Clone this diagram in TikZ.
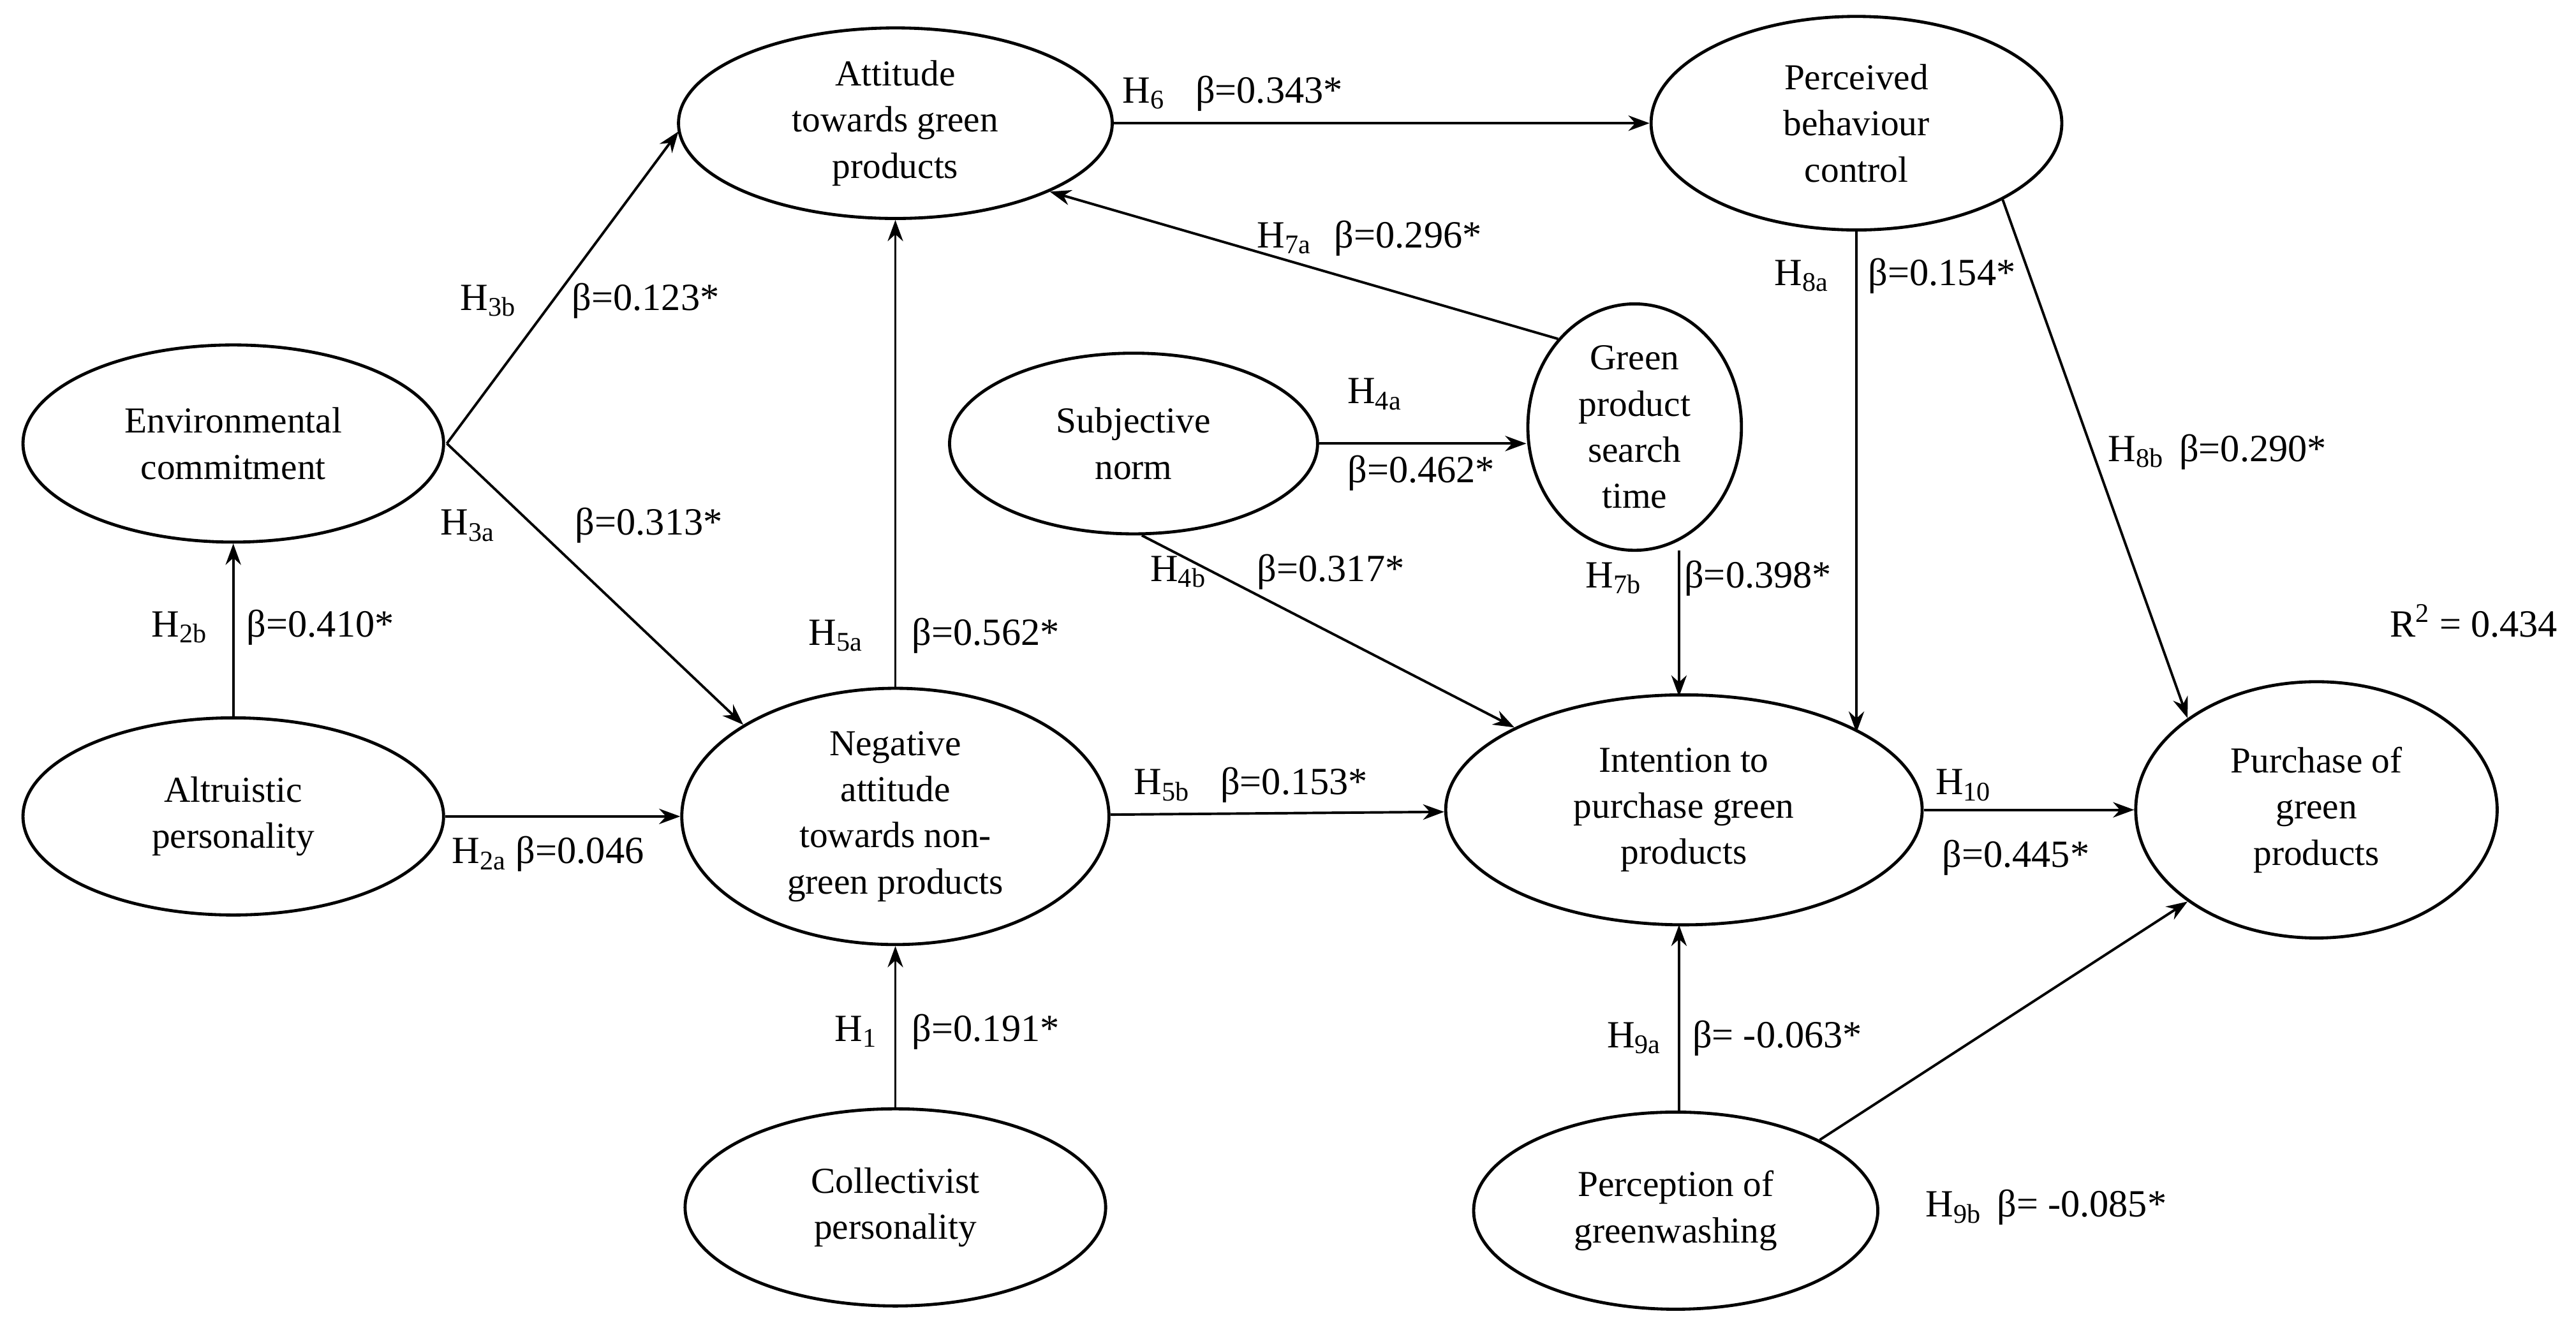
\documentclass[tikz,border=0pt]{standalone}
\usepackage{fontspec}
\setmainfont{Liberation Serif}
\usetikzlibrary{shapes.geometric,arrows.meta}
\begin{document}
\begin{tikzpicture}[x=0.03cm,y=-0.03cm,
  el/.style={draw,line width=1.6pt,ellipse,inner sep=0pt,align=center,font=\fontsize{19}{24}\selectfont},
  ar/.style={-{Stealth[length=11pt,width=8pt]},line width=1.3pt},
  lb/.style={anchor=west,inner sep=0pt,font=\fontsize{20}{24}\selectfont}]
\useasboundingbox (0,0) rectangle (1568,818);
\newcommand{\el}[6]{\node[el,minimum width=#4*0.06cm,minimum height=#5*0.06cm] (#1) at (#2,#3) {#6};}
\el{att}{545}{75}{132}{58}{Attitude\\towards green\\products}
\el{pbc}{1130}{75}{125}{65}{Perceived\\behaviour\\control}
\el{env}{142}{270}{128}{60}{Environmental\\commitment}
\el{sub}{690}{270}{112}{55}{Subjective\\norm}
\el{gps}{995}{260}{65}{75}{Green\\product\\search\\time}
\el{alt}{142}{497}{128}{60}{Altruistic\\personality}
\el{neg}{545}{497}{130}{78}{Negative\\attitude\\towards non-\\green products}
\el{int}{1025}{493}{145}{70}{Intention to\\purchase green\\products}
\el{pur}{1410}{493}{110}{78}{Purchase of\\green\\products}
\el{col}{545}{735}{128}{60}{Collectivist\\personality}
\el{grw}{1020}{737}{123}{60}{Perception of\\greenwashing}
\coordinate (envR) at (272,270);
\coordinate (attSW) at (413,80);
\draw[ar] (envR) -- (attSW);
\draw[ar] (envR) -- (neg.north west);
\draw[ar] (alt) -- (env);
\draw[ar] (alt) -- (neg);
\draw[ar] (neg) -- (att);
\draw[ar] (col) -- (neg);
\draw[ar] (att.east) -- (pbc.west);
\draw[ar] (gps.north west) -- (att.south east);
\draw[ar] (sub.east) -- (gps.west |- sub.east);
\draw[ar] (sub.south) ++(5,0) -- (int.north west);
\draw[ar] (gps.south |- 0,335) ++(27,0) -- (1022,424);
\coordinate (pbcI) at (1130,446);
\draw[ar] (pbc.south) -- (pbcI);
\draw[ar] (pbc.south east) -- (pur.north west);
\draw[ar] (neg) -- (int);
\draw[ar] (int) -- (pur);
\draw[ar] (grw.north) ++(2,0) -- (1022,563);
\draw[ar] (grw.north east) -- (pur.south west);
\node[lb] (l1) at (683,57) {H\textsubscript{6}\hspace{0.8em}β=0.343*};
\node[lb] (l2) at (765,145) {H\textsubscript{7a}\hspace{0.6em}β=0.296*};
\node[lb] (l3) at (280,183) {H\textsubscript{3b}};
\node[lb] (l4) at (348,183) {β=0.123*};
\node[lb] (l5) at (1080,168) {H\textsubscript{8a}};
\node[lb] (l6) at (1137,168) {β=0.154*};
\node[lb] (l7) at (820,240) {H\textsubscript{4a}};
\node[lb] (l8) at (820,288) {β=0.462*};
\node[lb] (l9) at (1283,275) {H\textsubscript{8b}\hspace{0.4em}β=0.290*};
\node[lb] (l10) at (268,320) {H\textsubscript{3a}};
\node[lb] (l11) at (350,320) {β=0.313*};
\node[lb] (l12) at (92,382) {H\textsubscript{2b}};
\node[lb] (l13) at (150,382) {β=0.410*};
\node[lb] (l14) at (492,387) {H\textsubscript{5a}};
\node[lb] (l15) at (555,387) {β=0.562*};
\node[lb] (l16) at (700,348) {H\textsubscript{4b}};
\node[lb] (l17) at (765,348) {β=0.317*};
\node[lb] (l18) at (965,352) {H\textsubscript{7b}};
\node[lb] (l19) at (1025,352) {β=0.398*};
\node[lb,anchor=east] (l20) at (1557,378) {R\textsuperscript{2} = 0.434};
\node[lb] (l21) at (690,478) {H\textsubscript{5b}\hspace{0.8em}β=0.153*};
\node[lb] (l22) at (1178,478) {H\textsubscript{10}};
\node[lb] (l23) at (1182,522) {β=0.445*};
\node[lb] (l24) at (275,520) {H\textsubscript{2a} β=0.046};
\node[lb] (l25) at (508,628) {H\textsubscript{1}};
\node[lb] (l26) at (555,628) {β=0.191*};
\node[lb] (l27) at (978,632) {H\textsubscript{9a}};
\node[lb] (l28) at (1030,632) {β= -0.063*};
\node[lb] (l29) at (1172,735) {H\textsubscript{9b}\hspace{0.4em}β= -0.085*};
\end{tikzpicture}
\end{document}
